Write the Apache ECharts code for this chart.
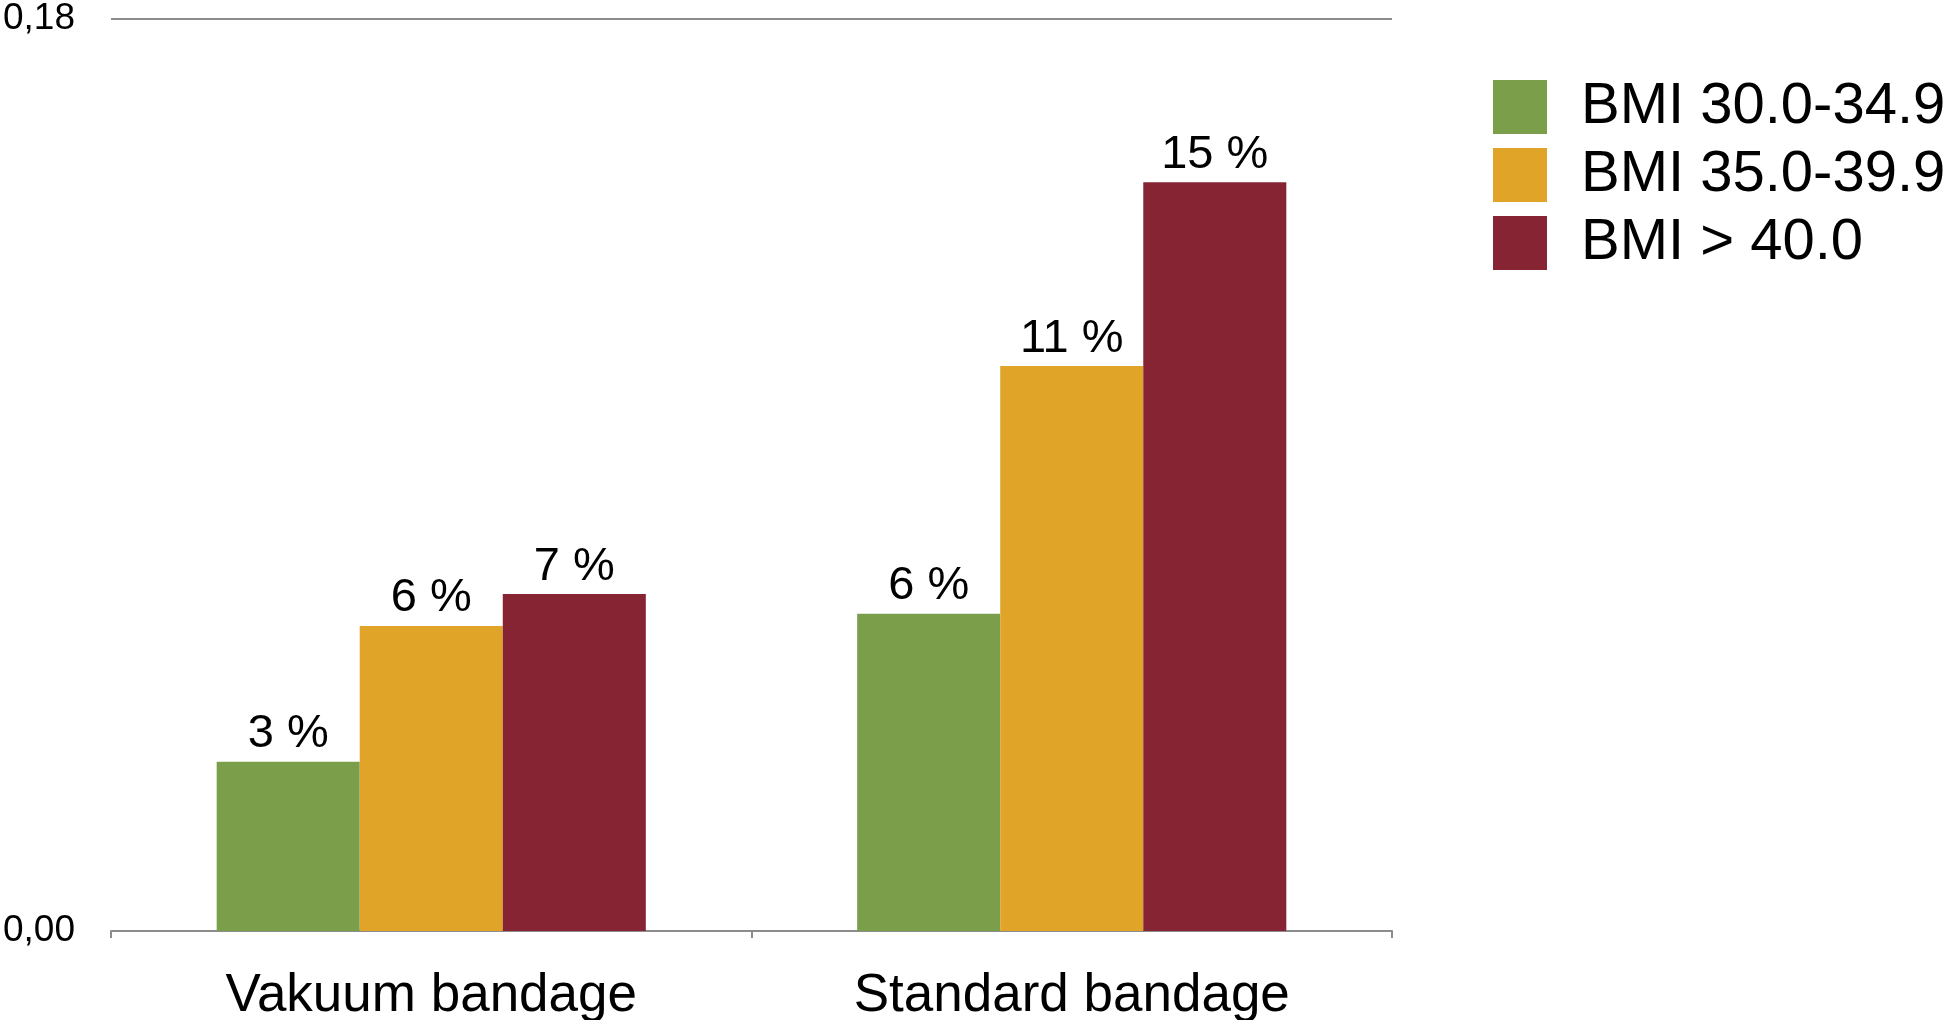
<!DOCTYPE html>
<html>
<head>
<meta charset="utf-8">
<title>Komplikationsrate nach BMI</title>
<script src="https://cdn.jsdelivr.net/npm/echarts@6/dist/echarts.min.js"></script>
<style>
  html, body { margin: 0; padding: 0; background: #ffffff; }
  #chart { width: 1954px; height: 1020px; }
</style>
</head>
<body>
<div id="chart"></div>
<script>
// Bandage types on the x axis
const categories = ['Vakuum bandage', 'Standard bandage'];

// BMI groups (one series each)
const groupNames = ['BMI 30.0-34.9', 'BMI 35.0-39.9', 'BMI > 40.0'];
const groupColors = ['#7A9E4A', '#E0A429', '#862434'];

// Rates per bandage type, as fractions
const bmi30to35 = [0.0334, 0.0626];
const bmi35to40 = [0.0602, 0.1115];
const bmiOver40 = [0.0665, 0.1478];

// Y axis range and its two labelled ticks
const yMin = 0;
const yMax = 0.18;
const yTickLabels = ['0,00', '0,18'];

const seriesValues = [bmi30to35, bmi35to40, bmiOver40];
const FONT = '"Liberation Sans", Arial, sans-serif';
const AXIS_GREY = '#8C8C8C';

const chart = echarts.init(document.getElementById('chart'), null, { renderer: 'canvas' });

chart.setOption({
  backgroundColor: '#ffffff',
  animation: false,
  textStyle: { fontFamily: FONT, color: '#000000' },
  grid: {
    left: 111, right: 562, top: 19, bottom: 89,
    containLabel: false,
    outerBoundsMode: 'none'
  },
  legend: {
    data: groupNames,
    orient: 'vertical',
    left: 1488,
    top: 73,
    icon: 'rect',
    itemWidth: 54,
    itemHeight: 54,
    itemGap: 10,
    textStyle: {
      fontFamily: FONT,
      fontSize: 58,
      color: '#000000',
      lineHeight: 54,
      padding: [0, 0, 0, 29]
    }
  },
  xAxis: {
    type: 'category',
    data: categories,
    boundaryGap: true,
    axisLine: { show: true, lineStyle: { color: AXIS_GREY, width: 2 } },
    axisTick: { show: true, length: 7, lineStyle: { color: AXIS_GREY, width: 2 } },
    axisLabel: { fontFamily: FONT, fontSize: 53, color: '#000000', margin: 39 }
  },
  yAxis: {
    type: 'value',
    min: yMin,
    max: yMax,
    interval: yMax - yMin,
    axisLine: { show: false },
    axisTick: { show: false },
    splitLine: { show: true, lineStyle: { color: AXIS_GREY, width: 2 } },
    axisLabel: {
      fontFamily: FONT,
      fontSize: 37,
      color: '#000000',
      margin: 36,
      formatter: function (v) {
        return v === yMin ? yTickLabels[0] : yTickLabels[1];
      }
    }
  },
  series: groupNames.map(function (name, i) {
    return {
      name: name,
      type: 'bar',
      data: seriesValues[i],
      barGap: '0%',
      barCategoryGap: '33%',
      itemStyle: { color: groupColors[i] },
      label: {
        show: true,
        position: 'top',
        distance: 4,
        fontFamily: FONT,
        fontSize: 47,
        color: '#000000',
        formatter: function (p) {
          return Math.round(p.value * 100) + ' %';
        }
      }
    };
  })
});
</script>
</body>
</html>
